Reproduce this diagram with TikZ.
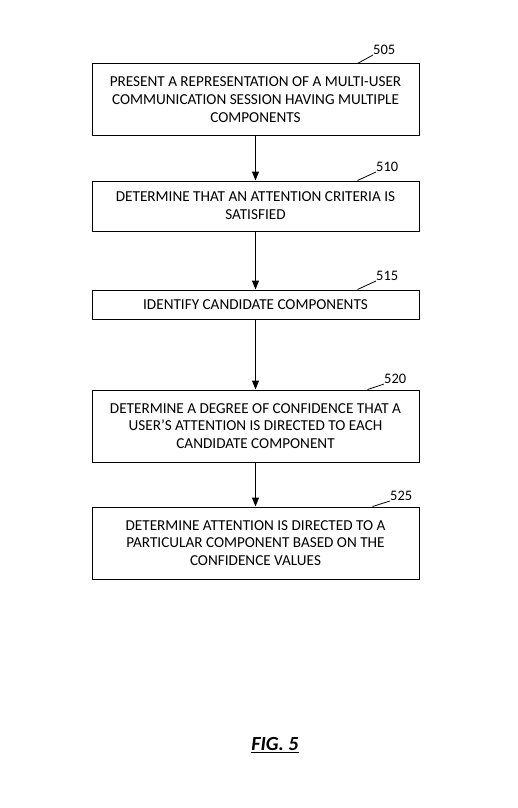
\documentclass[tikz,border=0pt]{standalone}
\usepackage{fontspec}
\setmainfont{Carlito}
\usetikzlibrary{arrows.meta,positioning,calc}
\tikzset{
  stepbox/.style={draw=black, line width=1pt, fill=white, align=center, minimum width=327pt, inner xsep=6pt, inner ysep=3pt},
  reflabel/.style={anchor=south west, inner sep=0pt, font=\fontsize{14.5}{16}\selectfont},
  leader/.style={line width=0.8pt, draw=black},
  arrow/.style={-{Triangle[length=9pt, width=7pt]}, line width=1pt, draw=black}
}

\begin{document}
\begin{tikzpicture}[x=1pt, y=-1pt, font=\fontsize{15.2}{17.8}\selectfont]
    \useasboundingbox (0,0) rectangle (517,808);
    \node[stepbox, minimum height=71pt] (present) at (255.5,99.5) {PRESENT A REPRESENTATION OF A MULTI-USER\\COMMUNICATION SESSION HAVING MULTIPLE\\COMPONENTS};
    \node[stepbox, minimum height=50pt, below=45pt of present] (criteria) {DETERMINE THAT AN ATTENTION CRITERIA IS\\SATISFIED};
    \node[stepbox, minimum height=29pt, below=58pt of criteria] (identify) {IDENTIFY CANDIDATE COMPONENTS};
    \node[stepbox, minimum height=72pt, below=70pt of identify] (confidence) {DETERMINE A DEGREE OF CONFIDENCE THAT A\\USER'S ATTENTION IS DIRECTED TO EACH\\CANDIDATE COMPONENT};
    \node[stepbox, minimum height=72pt, below=44pt of confidence] (particular) {DETERMINE ATTENTION IS DIRECTED TO A\\PARTICULAR COMPONENT BASED ON THE\\CONFIDENCE VALUES};

    % reference numerals
    \node[reflabel] (n505) at (373,55) {505};
    \node[reflabel] (n510) at (376,172) {510};
    \node[reflabel] (n515) at (376,281) {515};
    \node[reflabel] (n520) at (384,384) {520};
    \node[reflabel] (n525) at (390,501) {525};
    \draw[leader] ($(present.north east)+(-62,0)$) -- (n505.south west);
    \draw[leader] ($(criteria.north east)+(-62,0)$) -- (n510.south west);
    \draw[leader] ($(identify.north east)+(-62,0)$) -- (n515.south west);
    \draw[leader] ($(confidence.north east)+(-52,0)$) -- (n520.south west);
    \draw[leader] ($(particular.north east)+(-47,0)$) -- (n525.south west);

    \draw[arrow] (present) -- (criteria);
    \draw[arrow] (criteria) -- (identify);
    \draw[arrow] (identify) -- (confidence);
    \draw[arrow] (confidence) -- (particular);

    \node[font=\fontsize{20}{24}\selectfont\bfseries\itshape] (fig) at (275,745) {\underline{FIG. 5}};
\end{tikzpicture}
\end{document}
